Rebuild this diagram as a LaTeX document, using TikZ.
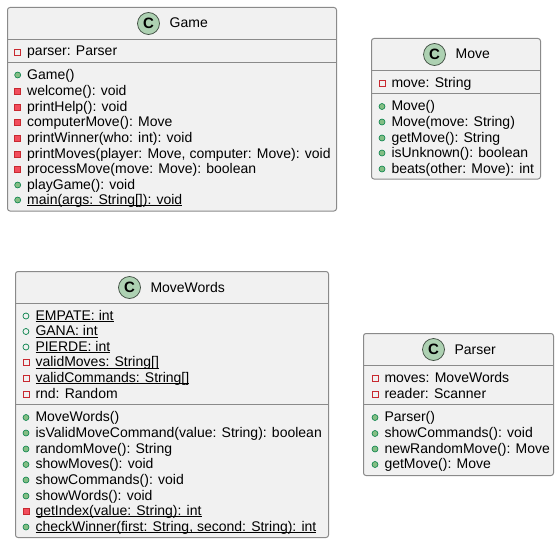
\documentclass[tikz,border=0pt]{standalone}
\usepackage{fontspec}
\setmainfont{Liberation Sans}
\usepackage{tikz}
\definecolor{boxfill}{HTML}{F1F1F1}
\definecolor{boxline}{HTML}{8A8A8A}
\definecolor{circline}{HTML}{3C4A3E}
\definecolor{circfill}{HTML}{ADD1B2}
\definecolor{pubfill}{HTML}{84BE84}
\definecolor{publine}{HTML}{038048}
\definecolor{privfill}{HTML}{F24D5C}
\definecolor{privline}{HTML}{C82930}
\newcommand{\ulined}[1]{\setbox0=\hbox{#1}\rlap{\rule[-2pt]{\wd0}{0.7pt}}\box0}
\tikzset{
    classbox/.style={draw=boxline,fill=boxfill,line width=1pt,rounded corners=2.5pt,outer sep=0pt,inner sep=0pt,anchor=north west},
    classcirc/.style={shape=circle,draw=circline,fill=circfill,line width=0.7pt,minimum size=22pt,inner sep=0pt,font=\fontsize{15}{15}\selectfont\bfseries},
    classname/.style={anchor=base west,inner sep=0pt,font=\fontsize{14}{16}\selectfont},
    member/.style={anchor=base west,inner sep=0pt,text height=9pt,text depth=1pt,font=\fontsize{14}{16}\selectfont},
    pubdot/.style={shape=circle,draw=publine,fill=pubfill,line width=0.6pt,minimum size=6pt,inner sep=0pt,xshift=-6pt},
    pubring/.style={shape=circle,draw=publine,fill=none,line width=0.7pt,minimum size=6pt,inner sep=0pt,xshift=-6pt},
    privsq/.style={shape=rectangle,draw=privline,fill=privfill,line width=0.6pt,minimum size=6pt,inner sep=0pt,xshift=-6pt},
    privbox/.style={shape=rectangle,draw=privline,fill=none,line width=0.7pt,minimum size=6pt,inner sep=0pt,xshift=-6pt},
    pubm/.style={member,label={[pubdot]left:{}}},
    pubf/.style={member,label={[pubring]left:{}}},
    privm/.style={member,label={[privsq]left:{}}},
    privf/.style={member,label={[privbox]left:{}}},
    sepline/.style={draw=boxline,line width=1pt}
}
\begin{document}
\begin{tikzpicture}[x=1pt,y=-1pt]
    \useasboundingbox (0,0) rectangle (559,543);
    % Game
    \node[classbox,minimum width=329pt,minimum height=203.5pt] (Game) at (7.5,7.5) {};
    \node[classcirc] (GameC) at (148.5,23.5) {C};
    \node[classname] (GameN) at (169.5,28) {Game};
    \draw[sepline] (Game.west |- 0,39.5) -- (Game.east |- 0,39.5);
    \draw[sepline] (Game.west |- 0,62.5) -- (Game.east |- 0,62.5);
    \node[privf] (G1) at (27,56) {parser: Parser};
    \node[pubm] (G2) at (27,79) {Game()};
    \node[privm] (G3) at (27,95) {welcome(): void};
    \node[privm] (G4) at (27,111) {printHelp(): void};
    \node[privm] (G5) at (27,126.5) {computerMove(): Move};
    \node[privm] (G6) at (27,142) {printWinner(who: int): void};
    \node[privm] (G7) at (27,158) {printMoves(player: Move, computer: Move): void};
    \node[privm] (G8) at (27,173) {processMove(move: Move): boolean};
    \node[pubm] (G9) at (27,189) {playGame(): void};
    \node[pubm] (G10) at (27,204) {\ulined{main(args: String[]): void}};
    % Move
    \node[classbox,minimum width=169pt,minimum height=140.5pt] (Move) at (371.5,38.5) {};
    \node[classcirc] (MoveC) at (434.5,54.5) {C};
    \node[classname] (MoveN) at (455.5,59) {Move};
    \draw[sepline] (Move.west |- 0,70.5) -- (Move.east |- 0,70.5);
    \draw[sepline] (Move.west |- 0,93.5) -- (Move.east |- 0,93.5);
    \node[privf] (M1) at (391.3,87) {move: String};
    \node[pubm] (M2) at (391.3,110.5) {Move()};
    \node[pubm] (M3) at (391.3,126) {Move(move: String)};
    \node[pubm] (M4) at (391.3,142) {getMove(): String};
    \node[pubm] (M5) at (391.3,157) {isUnknown(): boolean};
    \node[pubm] (M6) at (391.3,173) {beats(other: Move): int};
    % MoveWords
    \node[classbox,minimum width=313pt,minimum height=266pt] (Words) at (15.5,271.5) {};
    \node[classcirc] (WordsC) at (129.5,287.5) {C};
    \node[classname] (WordsN) at (150.3,292) {MoveWords};
    \draw[sepline] (Words.west |- 0,303.5) -- (Words.east |- 0,303.5);
    \draw[sepline] (Words.west |- 0,404.5) -- (Words.east |- 0,404.5);
    \node[pubf] (W1) at (35.3,320) {\ulined{EMPATE: int}};
    \node[pubf] (W2) at (35.3,335.5) {\ulined{GANA: int}};
    \node[pubf] (W3) at (35.3,351) {\ulined{PIERDE: int}};
    \node[privf] (W4) at (35.3,366.5) {\ulined{validMoves: String[]}};
    \node[privf] (W5) at (35.3,382) {\ulined{validCommands: String[]}};
    \node[privf] (W6) at (35.3,398) {rnd: Random};
    \node[pubm] (W7) at (35.3,421.5) {MoveWords()};
    \node[pubm] (W8) at (35.3,437) {isValidMoveCommand(value: String): boolean};
    \node[pubm] (W9) at (35.3,453) {randomMove(): String};
    \node[pubm] (W10) at (35.3,468.5) {showMoves(): void};
    \node[pubm] (W11) at (35.3,484) {showCommands(): void};
    \node[pubm] (W12) at (35.3,500) {showWords(): void};
    \node[privm] (W13) at (35.3,515) {\ulined{getIndex(value: String): int}};
    \node[pubm] (W14) at (35.3,531) {\ulined{checkWinner(first: String, second: String): int}};
    % Parser
    \node[classbox,minimum width=190pt,minimum height=142pt] (Parser) at (363.5,333.5) {};
    \node[classcirc] (ParserC) at (433.5,349.5) {C};
    \node[classname] (ParserN) at (454.3,354) {Parser};
    \draw[sepline] (Parser.west |- 0,365.5) -- (Parser.east |- 0,365.5);
    \draw[sepline] (Parser.west |- 0,404.5) -- (Parser.east |- 0,404.5);
    \node[privf] (P1) at (384.3,382) {moves: MoveWords};
    \node[privf] (P2) at (384.3,398) {reader: Scanner};
    \node[pubm] (P3) at (384.3,421.5) {Parser()};
    \node[pubm] (P4) at (384.3,437.5) {showCommands(): void};
    \node[pubm] (P5) at (384.3,453) {newRandomMove(): Move};
    \node[pubm] (P6) at (384.3,468.5) {getMove(): Move};
\end{tikzpicture}
\end{document}
